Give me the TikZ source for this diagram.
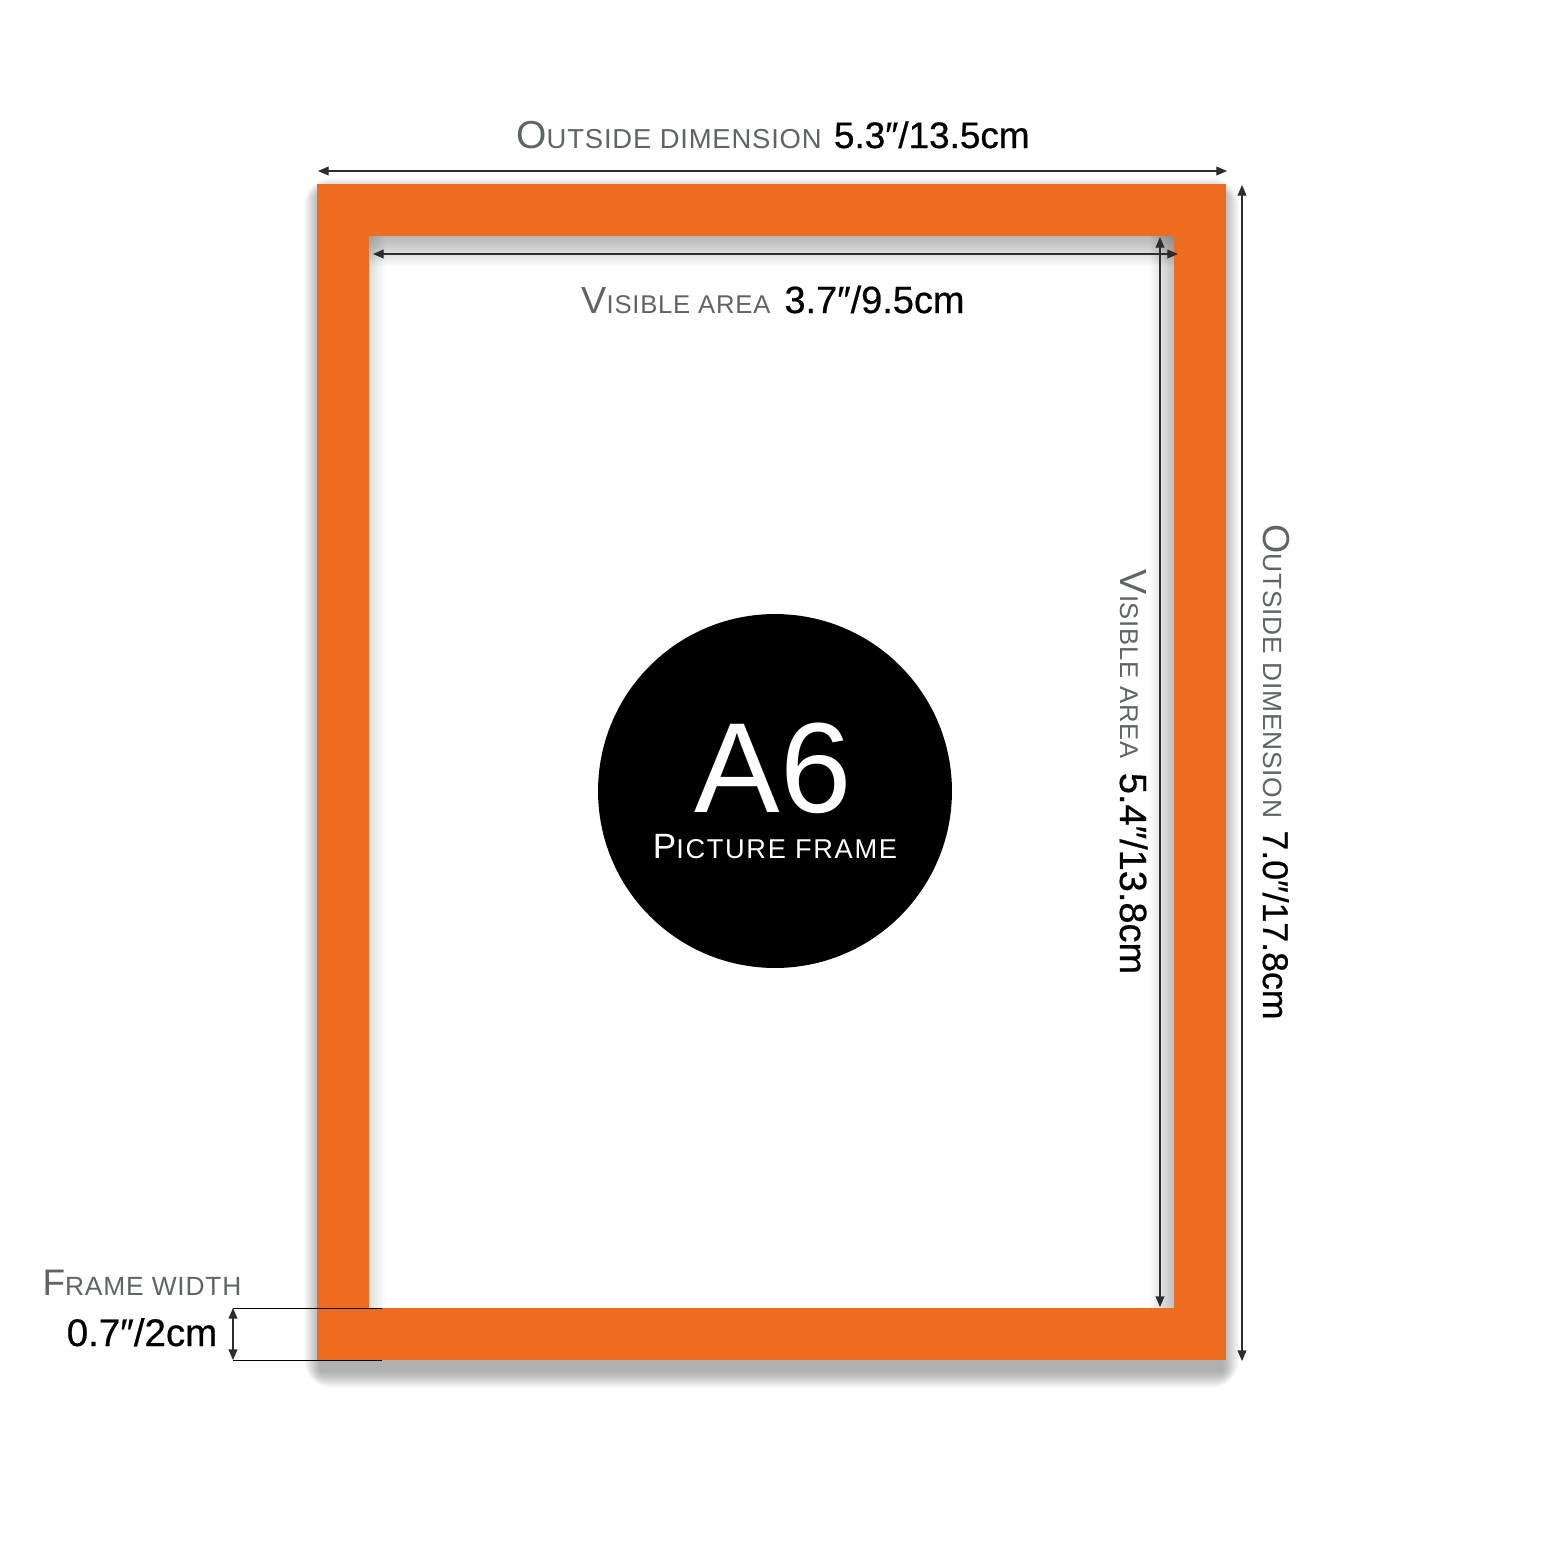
\documentclass[tikz,border=0pt]{standalone}
\usepackage{fontspec}
\setmainfont{Liberation Sans}
\usetikzlibrary{arrows.meta}
\definecolor{frameorange}{RGB}{237,108,32}
\definecolor{labelgray}{RGB}{95,100,100}
\definecolor{dimline}{RGB}{45,45,45}
\newcommand\fakesc[4]{{\fontsize{#1}{#1}\selectfont #3}{\fontsize{#2}{#2}\selectfont\addfontfeature{LetterSpace=3}#4}}
\newcommand\numtxt[2]{{\fontsize{#1}{#1}\selectfont\addfontfeature{FakeBold=0.6}#2}}
\begin{document}
\begin{tikzpicture}[x=0.02cm,y=-0.02cm,
  dimarrow/.style={draw=dimline, line width=0.6pt, {Triangle[length=6pt,width=5pt]}-{Triangle[length=6pt,width=5pt]}},
  helper/.style={draw=black, line width=0.5pt},
  lbl/.style={inner sep=0pt, anchor=base, text=labelgray}]
% canvas
\fill[white] (0,0) rectangle (1546,1546);
\useasboundingbox (0,0) rectangle (1546,1546);
% outer drop shadow
\foreach \i in {0,...,16} {
  \fill[black, opacity=0.018, rounded corners=\i pt] (320-\i,194-\i) rectangle (1223+\i,1372+\i);
}
% frame and visible area
\fill[frameorange] (317,184) rectangle (1226,1360);
\fill[white] (369,236) rectangle (1174,1308);
% inner shadows (stacked translucent strips)
\foreach \i in {1,...,15} {
  \fill[black, opacity=0.02] (369,236) rectangle (1174,236+2*\i);
}
\foreach \i in {1,...,8} {
  \fill[black, opacity=0.015] (369,236) rectangle (369+2*\i,1308);
}
\foreach \i in {1,...,12} {
  \fill[black, opacity=0.018] (1174-2*\i,236) rectangle (1174,1308);
}
% badge
\node[circle, fill=black, minimum size=7.08cm, inner sep=0pt] (badge) at (775,791) {};
\node[inner sep=0pt, anchor=base, text=white] (a6) at (773,812) {{\fontsize{73pt}{73pt}\selectfont A6}};
\node[inner sep=0pt, anchor=base, text=white] (pf) at (775,858) {{\fontsize{20pt}{20pt}\selectfont P}{\fontsize{15.5pt}{15.5pt}\selectfont\addfontfeature{LetterSpace=6}ICTURE FRAME}};
% coordinates for dimension arrows
\coordinate (odL) at (318,171);
\coordinate (odR) at (1227,171);
\coordinate (vaL) at (373,254);
\coordinate (vaR) at (1178,254);
\coordinate (vvT) at (1160,237);
\coordinate (vvB) at (1160,1307);
\coordinate (ovT) at (1242,185);
\coordinate (ovB) at (1242,1361);
\coordinate (fwT) at (233,1308);
\coordinate (fwB) at (233,1360);
\coordinate (fwTe) at (382,1308);
\coordinate (fwBe) at (382,1360);
% arrows
\draw[dimarrow] (odL) -- (odR);
\draw[dimarrow] (vaL) -- (vaR);
\draw[dimarrow] (vvT) -- (vvB);
\draw[dimarrow] (ovT) -- (ovB);
\draw[helper] (fwT) -- (fwTe);
\draw[helper] (fwB) -- (fwBe);
\draw[dimarrow] (fwT) -- (fwB);
% labels
\node[lbl] (odlabel) at (773,148) {\fakesc{22.2pt}{15.6pt}{O}{UTSIDE DIMENSION}\hspace{7pt}\textcolor{black}{\numtxt{21pt}{5.3″/13.5cm}}};
\node[lbl] (valabel) at (773,313) {\fakesc{21.5pt}{14.6pt}{V}{ISIBLE AREA}\hspace{8pt}\textcolor{black}{\numtxt{21.6pt}{3.7″/9.5cm}}};
\node[lbl, rotate=-90] (vvlabel) at (1120,772) {\fakesc{21.5pt}{14.6pt}{V}{ISIBLE AREA}\hspace{8pt}\textcolor{black}{\numtxt{21.6pt}{5.4″/13.8cm}}};
\node[lbl, rotate=-90] (ovlabel) at (1263,772) {\fakesc{21.4pt}{15pt}{O}{UTSIDE DIMENSION}\hspace{7pt}\textcolor{black}{\numtxt{20.3pt}{7.0″/17.8cm}}};
\node[lbl] (fwlabel) at (142,1295) {\fakesc{21pt}{15pt}{F}{RAME WIDTH}};
\node[lbl, text=black] (fwvalue) at (142,1346) {\numtxt{21.9pt}{0.7″/2cm}};
\end{tikzpicture}
\end{document}
